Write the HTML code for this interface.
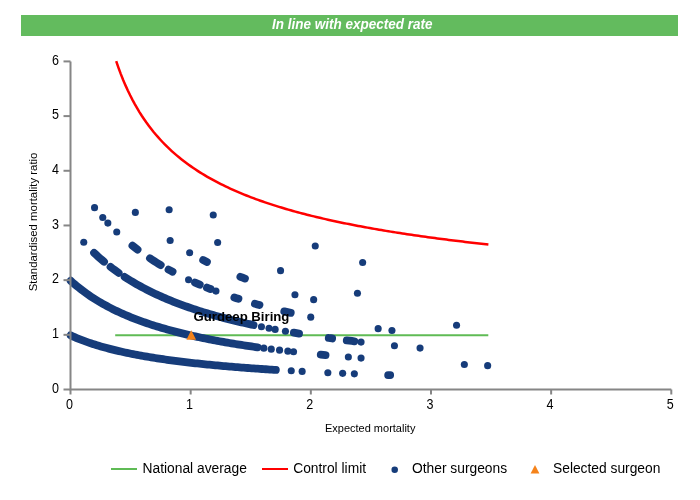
<!DOCTYPE html>
<html><head><meta charset="utf-8"><style>
html,body{margin:0;padding:0;background:#fff;width:700px;height:500px;overflow:hidden}
svg{position:absolute;left:0;top:0;will-change:transform;font-family:"Liberation Sans",sans-serif}
</style></head><body>
<svg width="700" height="500" viewBox="0 0 700 500">
<rect x="21" y="15" width="657" height="21" fill="#63bb5e"/>
<text transform="translate(352.30,28.90) scale(1.0,1.1)" text-anchor="middle" font-size="13.5" font-weight="bold" font-style="italic" fill="#fff">In line with expected rate</text>
<path d="M115.2,335.3 L488.3,335.3" stroke="#5fbb55" stroke-width="2" fill="none"/>
<path d="M116.19,61.12 L118.52,67.84 L120.84,74.09 L123.17,79.92 L125.50,85.38 L127.82,90.50 L130.15,95.31 L132.48,99.86 L134.80,104.15 L137.13,108.22 L139.45,112.08 L141.78,115.75 L144.11,119.24 L146.43,122.58 L148.76,125.76 L151.09,128.80 L153.41,131.72 L155.74,134.51 L158.07,137.19 L160.39,139.77 L162.72,142.25 L165.04,144.64 L167.37,146.94 L169.70,149.16 L172.02,151.30 L174.35,153.37 L176.68,155.38 L179.00,157.31 L181.33,159.19 L183.65,161.01 L185.98,162.77 L188.31,164.48 L190.63,166.14 L192.96,167.75 L195.29,169.32 L197.61,170.84 L199.94,172.33 L202.27,173.77 L204.59,175.18 L206.92,176.55 L209.24,177.88 L211.57,179.18 L213.90,180.45 L216.22,181.69 L218.55,182.90 L220.88,184.08 L223.20,185.24 L225.53,186.37 L227.85,187.47 L230.18,188.55 L232.51,189.61 L234.83,190.64 L237.16,191.65 L239.49,192.64 L241.81,193.61 L244.14,194.57 L246.46,195.50 L248.79,196.41 L251.12,197.31 L253.44,198.19 L255.77,199.05 L258.10,199.90 L260.42,200.73 L262.75,201.54 L265.08,202.34 L267.40,203.13 L269.73,203.90 L272.05,204.66 L274.38,205.41 L276.71,206.14 L279.03,206.86 L281.36,207.57 L283.69,208.27 L286.01,208.96 L288.34,209.63 L290.66,210.30 L292.99,210.95 L295.32,211.60 L297.64,212.23 L299.97,212.85 L302.30,213.47 L304.62,214.08 L306.95,214.67 L309.27,215.26 L311.60,215.84 L313.93,216.41 L316.25,216.97 L318.58,217.53 L320.91,218.08 L323.23,218.62 L325.56,219.15 L327.89,219.68 L330.21,220.19 L332.54,220.70 L334.86,221.21 L337.19,221.71 L339.52,222.20 L341.84,222.68 L344.17,223.16 L346.50,223.64 L348.82,224.10 L351.15,224.56 L353.47,225.02 L355.80,225.47 L358.13,225.91 L360.45,226.35 L362.78,226.79 L365.11,227.21 L367.43,227.64 L369.76,228.06 L372.08,228.47 L374.41,228.88 L376.74,229.28 L379.06,229.68 L381.39,230.08 L383.72,230.47 L386.04,230.86 L388.37,231.24 L390.70,231.62 L393.02,231.99 L395.35,232.36 L397.67,232.73 L400.00,233.09 L402.33,233.45 L404.65,233.80 L406.98,234.15 L409.31,234.50 L411.63,234.84 L413.96,235.18 L416.28,235.52 L418.61,235.85 L420.94,236.18 L423.26,236.51 L425.59,236.83 L427.92,237.15 L430.24,237.47 L432.57,237.78 L434.90,238.10 L437.22,238.40 L439.55,238.71 L441.87,239.01 L444.20,239.31 L446.53,239.61 L448.85,239.90 L451.18,240.19 L453.51,240.48 L455.83,240.77 L458.16,241.05 L460.48,241.33 L462.81,241.61 L465.14,241.89 L467.46,242.16 L469.79,242.43 L472.12,242.70 L474.44,242.97 L476.77,243.23 L479.09,243.49 L481.42,243.75 L483.75,244.01 L486.07,244.27 L488.40,244.52" stroke="#ff0000" stroke-width="2.5" fill="none" stroke-linecap="butt"/>
<path d="M70.65,335.42 L72.66,336.32 L74.67,337.19 L76.69,338.04 L78.70,338.85 L80.71,339.64 L82.72,340.41 L84.73,341.16 L86.74,341.88 L88.76,342.58 L90.77,343.26 L92.78,343.92 L94.79,344.57 L96.80,345.19 L98.81,345.80 L100.83,346.40 L102.84,346.97 L104.85,347.53 L106.86,348.08 L108.87,348.62 L110.89,349.14 L112.90,349.64 L114.91,350.14 L116.92,350.62 L118.93,351.09 L120.94,351.55 L122.96,352.00 L124.97,352.44 L126.98,352.87 L128.99,353.29 L131.00,353.70 L133.01,354.10 L135.03,354.50 L137.04,354.88 L139.05,355.26 L141.06,355.62 L143.07,355.98 L145.09,356.34 L147.10,356.68 L149.11,357.02 L151.12,357.35 L153.13,357.68 L155.14,358.00 L157.16,358.31 L159.17,358.61 L161.18,358.92 L163.19,359.21 L165.20,359.50 L167.21,359.78 L169.23,360.06 L171.24,360.34 L173.25,360.60 L175.26,360.87 L177.27,361.13 L179.29,361.38 L181.30,361.63 L183.31,361.88 L185.32,362.12 L187.33,362.36 L189.34,362.59 L191.36,362.82 L193.37,363.05 L195.38,363.27 L197.39,363.49 L199.40,363.70 L201.41,363.92 L203.43,364.12 L205.44,364.33 L207.45,364.53 L209.46,364.73 L211.47,364.92 L213.49,365.12 L215.50,365.31 L217.51,365.49 L219.52,365.68 L221.53,365.86 L223.54,366.04 L225.56,366.21 L227.57,366.39 L229.58,366.56 L231.59,366.73 L233.60,366.89 L235.61,367.06 L237.63,367.22 L239.64,367.38 L241.65,367.53 L243.66,367.69 L245.67,367.84 L247.69,367.99 L249.70,368.14 L251.71,368.29 L253.72,368.43 L255.73,368.57 L257.74,368.72 L259.76,368.86 L261.77,368.99 L263.78,369.13 L265.79,369.26 L267.80,369.39 L269.81,369.52 L271.83,369.65 L273.84,369.78 L275.85,369.91" stroke="#163c7a" stroke-width="7.8" fill="none" stroke-linecap="round" stroke-linejoin="round"/>
<path d="M388.15,375.09 L389.15,375.12 L390.15,375.16" stroke="#163c7a" stroke-width="7.8" fill="none" stroke-linecap="round" stroke-linejoin="round"/>
<path d="M70.65,280.74 L72.66,282.54 L74.67,284.28 L76.68,285.96 L78.69,287.60 L80.70,289.18 L82.71,290.71 L84.72,292.20 L86.73,293.65 L88.74,295.05 L90.75,296.41 L92.76,297.73 L94.77,299.02 L96.78,300.27 L98.79,301.49 L100.80,302.67 L102.80,303.83 L104.81,304.95 L106.82,306.04 L108.83,307.11 L110.84,308.15 L112.85,309.17 L114.86,310.16 L116.87,311.12 L118.88,312.06 L120.89,312.98 L122.90,313.88 L124.91,314.76 L126.92,315.62 L128.93,316.46 L130.94,317.28 L132.95,318.08 L134.96,318.86 L136.97,319.63 L138.98,320.38 L140.99,321.12 L143.00,321.84 L145.01,322.54 L147.02,323.24 L149.03,323.91 L151.04,324.58 L153.05,325.23 L155.06,325.86 L157.07,326.49 L159.08,327.10 L161.09,327.70 L163.10,328.29 L165.10,328.87 L167.11,329.44 L169.12,330.00 L171.13,330.54 L173.14,331.08 L175.15,331.61 L177.16,332.13 L179.17,332.64 L181.18,333.14 L183.19,333.63 L185.20,334.11 L187.21,334.59 L189.22,335.06 L191.23,335.52 L193.24,335.97 L195.25,336.41 L197.26,336.85 L199.27,337.28 L201.28,337.70 L203.29,338.12 L205.30,338.53 L207.31,338.93 L209.32,339.33 L211.33,339.72 L213.34,340.11 L215.35,340.49 L217.36,340.86 L219.37,341.23 L221.38,341.59 L223.39,341.95 L225.40,342.30 L227.40,342.65 L229.41,342.99 L231.42,343.32 L233.43,343.66 L235.44,343.98 L237.45,344.31 L239.46,344.63 L241.47,344.94 L243.48,345.25 L245.49,345.56 L247.50,345.86 L249.51,346.15 L251.52,346.45 L253.53,346.74 L255.54,347.02 L257.55,347.30" stroke="#163c7a" stroke-width="7.8" fill="none" stroke-linecap="round" stroke-linejoin="round"/>
<path d="M320.75,354.61 L323.15,354.84 L325.55,355.06" stroke="#163c7a" stroke-width="7.8" fill="none" stroke-linecap="round" stroke-linejoin="round"/>
<path d="M94.05,252.80 L96.05,254.68 L98.05,256.52 L100.05,258.31 L102.05,260.05 L104.05,261.74" stroke="#163c7a" stroke-width="7.8" fill="none" stroke-linecap="round" stroke-linejoin="round"/>
<path d="M110.55,266.95 L112.58,268.49 L114.60,269.99 L116.62,271.46 L118.65,272.88" stroke="#163c7a" stroke-width="7.8" fill="none" stroke-linecap="round" stroke-linejoin="round"/>
<path d="M124.65,276.92 L126.66,278.22 L128.68,279.48 L130.69,280.72 L132.71,281.93 L134.72,283.11 L136.73,284.27 L138.75,285.40 L140.76,286.51 L142.78,287.59 L144.79,288.65 L146.80,289.69 L148.82,290.71 L150.83,291.71 L152.85,292.69 L154.86,293.65 L156.88,294.59 L158.89,295.52 L160.90,296.42 L162.92,297.31 L164.93,298.18 L166.95,299.04 L168.96,299.88 L170.97,300.70 L172.99,301.51 L175.00,302.30 L177.02,303.09 L179.03,303.85 L181.04,304.61 L183.06,305.35 L185.07,306.07 L187.09,306.79 L189.10,307.49 L191.11,308.18 L193.13,308.86 L195.14,309.53 L197.16,310.19 L199.17,310.84 L201.18,311.47 L203.20,312.10 L205.21,312.72 L207.23,313.32 L209.24,313.92 L211.25,314.51 L213.27,315.09 L215.28,315.66 L217.30,316.22 L219.31,316.78 L221.33,317.32 L223.34,317.86 L225.35,318.39 L227.37,318.91 L229.38,319.42 L231.40,319.93 L233.41,320.43 L235.42,320.92 L237.44,321.41 L239.45,321.89 L241.47,322.36 L243.48,322.82 L245.49,323.28 L247.51,323.74 L249.52,324.18 L251.54,324.62 L253.55,325.06" stroke="#163c7a" stroke-width="7.8" fill="none" stroke-linecap="round" stroke-linejoin="round"/>
<path d="M293.85,332.69 L296.45,333.13 L299.05,333.55" stroke="#163c7a" stroke-width="7.8" fill="none" stroke-linecap="round" stroke-linejoin="round"/>
<path d="M328.75,337.99 L330.45,338.22 L332.15,338.45" stroke="#163c7a" stroke-width="7.8" fill="none" stroke-linecap="round" stroke-linejoin="round"/>
<path d="M346.75,340.36 L349.28,340.67 L351.82,340.99 L354.35,341.29" stroke="#163c7a" stroke-width="7.8" fill="none" stroke-linecap="round" stroke-linejoin="round"/>
<path d="M132.45,245.66 L135.00,247.66 L137.55,249.60" stroke="#163c7a" stroke-width="7.8" fill="none" stroke-linecap="round" stroke-linejoin="round"/>
<path d="M149.95,258.34 L152.11,259.75 L154.27,261.13 L156.43,262.48 L158.59,263.81 L160.75,265.11" stroke="#163c7a" stroke-width="7.8" fill="none" stroke-linecap="round" stroke-linejoin="round"/>
<path d="M168.55,269.58 L170.55,270.67 L172.55,271.75" stroke="#163c7a" stroke-width="7.8" fill="none" stroke-linecap="round" stroke-linejoin="round"/>
<path d="M195.05,282.64 L197.40,283.66 L199.75,284.66" stroke="#163c7a" stroke-width="7.8" fill="none" stroke-linecap="round" stroke-linejoin="round"/>
<path d="M206.95,287.62 L208.70,288.32 L210.45,289.00" stroke="#163c7a" stroke-width="7.8" fill="none" stroke-linecap="round" stroke-linejoin="round"/>
<path d="M234.35,297.51 L236.40,298.18 L238.45,298.83" stroke="#163c7a" stroke-width="7.8" fill="none" stroke-linecap="round" stroke-linejoin="round"/>
<path d="M254.95,303.78 L257.20,304.41 L259.45,305.04" stroke="#163c7a" stroke-width="7.8" fill="none" stroke-linecap="round" stroke-linejoin="round"/>
<path d="M284.25,311.36 L286.42,311.86 L288.58,312.37 L290.75,312.86" stroke="#163c7a" stroke-width="7.8" fill="none" stroke-linecap="round" stroke-linejoin="round"/>
<path d="M203.15,260.08 L205.05,261.05 L206.95,262.00" stroke="#163c7a" stroke-width="7.8" fill="none" stroke-linecap="round" stroke-linejoin="round"/>
<path d="M240.35,276.76 L242.65,277.66 L244.95,278.53" stroke="#163c7a" stroke-width="7.8" fill="none" stroke-linecap="round" stroke-linejoin="round"/>
<circle cx="291.25" cy="370.82" r="3.55" fill="#163c7a"/>
<circle cx="302.15" cy="371.42" r="3.55" fill="#163c7a"/>
<circle cx="327.85" cy="372.69" r="3.55" fill="#163c7a"/>
<circle cx="342.65" cy="373.35" r="3.55" fill="#163c7a"/>
<circle cx="354.35" cy="373.83" r="3.55" fill="#163c7a"/>
<circle cx="263.85" cy="348.17" r="3.55" fill="#163c7a"/>
<circle cx="271.25" cy="349.13" r="3.55" fill="#163c7a"/>
<circle cx="279.55" cy="350.17" r="3.55" fill="#163c7a"/>
<circle cx="287.85" cy="351.15" r="3.55" fill="#163c7a"/>
<circle cx="293.55" cy="351.80" r="3.55" fill="#163c7a"/>
<circle cx="348.35" cy="357.07" r="3.55" fill="#163c7a"/>
<circle cx="361.05" cy="358.09" r="3.55" fill="#163c7a"/>
<circle cx="464.35" cy="364.53" r="3.55" fill="#163c7a"/>
<circle cx="487.65" cy="365.64" r="3.55" fill="#163c7a"/>
<circle cx="83.75" cy="242.19" r="3.55" fill="#163c7a"/>
<circle cx="261.45" cy="326.71" r="3.55" fill="#163c7a"/>
<circle cx="269.05" cy="328.22" r="3.55" fill="#163c7a"/>
<circle cx="275.15" cy="329.39" r="3.55" fill="#163c7a"/>
<circle cx="285.45" cy="331.25" r="3.55" fill="#163c7a"/>
<circle cx="361.05" cy="342.09" r="3.55" fill="#163c7a"/>
<circle cx="394.45" cy="345.70" r="3.55" fill="#163c7a"/>
<circle cx="420.05" cy="348.12" r="3.55" fill="#163c7a"/>
<circle cx="94.55" cy="207.67" r="3.55" fill="#163c7a"/>
<circle cx="102.75" cy="217.49" r="3.55" fill="#163c7a"/>
<circle cx="107.85" cy="223.09" r="3.55" fill="#163c7a"/>
<circle cx="116.75" cy="232.03" r="3.55" fill="#163c7a"/>
<circle cx="188.55" cy="279.70" r="3.55" fill="#163c7a"/>
<circle cx="215.95" cy="291.10" r="3.55" fill="#163c7a"/>
<circle cx="310.75" cy="317.15" r="3.55" fill="#163c7a"/>
<circle cx="378.15" cy="328.65" r="3.55" fill="#163c7a"/>
<circle cx="391.95" cy="330.57" r="3.55" fill="#163c7a"/>
<circle cx="135.35" cy="212.39" r="3.55" fill="#163c7a"/>
<circle cx="170.15" cy="240.54" r="3.55" fill="#163c7a"/>
<circle cx="189.65" cy="252.74" r="3.55" fill="#163c7a"/>
<circle cx="294.95" cy="294.73" r="3.55" fill="#163c7a"/>
<circle cx="313.65" cy="299.64" r="3.55" fill="#163c7a"/>
<circle cx="456.55" cy="325.18" r="3.55" fill="#163c7a"/>
<circle cx="169.15" cy="209.81" r="3.55" fill="#163c7a"/>
<circle cx="217.65" cy="242.54" r="3.55" fill="#163c7a"/>
<circle cx="280.55" cy="270.66" r="3.55" fill="#163c7a"/>
<circle cx="357.45" cy="293.23" r="3.55" fill="#163c7a"/>
<circle cx="213.25" cy="215.06" r="3.55" fill="#163c7a"/>
<circle cx="315.25" cy="246.00" r="3.55" fill="#163c7a"/>
<circle cx="362.65" cy="262.57" r="3.55" fill="#163c7a"/>
<path d="M70.5,61.4 V389.5 H671.3" stroke="#868686" stroke-width="2" fill="none"/>
<path d="M63.5,389.50 H70.5" stroke="#868686" stroke-width="2"/>
<path d="M63.5,334.82 H70.5" stroke="#868686" stroke-width="2"/>
<path d="M63.5,280.14 H70.5" stroke="#868686" stroke-width="2"/>
<path d="M63.5,225.46 H70.5" stroke="#868686" stroke-width="2"/>
<path d="M63.5,170.78 H70.5" stroke="#868686" stroke-width="2"/>
<path d="M63.5,116.10 H70.5" stroke="#868686" stroke-width="2"/>
<path d="M63.5,61.42 H70.5" stroke="#868686" stroke-width="2"/>
<path d="M70.50,389.5 V394.5" stroke="#868686" stroke-width="2"/>
<path d="M190.66,389.5 V394.5" stroke="#868686" stroke-width="2"/>
<path d="M310.82,389.5 V394.5" stroke="#868686" stroke-width="2"/>
<path d="M430.98,389.5 V394.5" stroke="#868686" stroke-width="2"/>
<path d="M551.14,389.5 V394.5" stroke="#868686" stroke-width="2"/>
<path d="M671.30,389.5 V394.5" stroke="#868686" stroke-width="2"/>
<path d="M191.25,330.2 L196.1,339.8 L186.4,339.8 Z" fill="#f5831b"/>
<text transform="translate(58.90,392.80) scale(0.93,1.05)" text-anchor="end" font-size="13.5" >0</text>
<text transform="translate(58.90,338.12) scale(0.93,1.05)" text-anchor="end" font-size="13.5" >1</text>
<text transform="translate(58.90,283.44) scale(0.93,1.05)" text-anchor="end" font-size="13.5" >2</text>
<text transform="translate(58.90,228.76) scale(0.93,1.05)" text-anchor="end" font-size="13.5" >3</text>
<text transform="translate(58.90,174.08) scale(0.93,1.05)" text-anchor="end" font-size="13.5" >4</text>
<text transform="translate(58.90,119.40) scale(0.93,1.05)" text-anchor="end" font-size="13.5" >5</text>
<text transform="translate(58.90,64.72) scale(0.93,1.05)" text-anchor="end" font-size="13.5" >6</text>
<text transform="translate(69.40,408.90) scale(0.93,1.05)" text-anchor="middle" font-size="13.5" >0</text>
<text transform="translate(189.56,408.90) scale(0.93,1.05)" text-anchor="middle" font-size="13.5" >1</text>
<text transform="translate(309.72,408.90) scale(0.93,1.05)" text-anchor="middle" font-size="13.5" >2</text>
<text transform="translate(429.88,408.90) scale(0.93,1.05)" text-anchor="middle" font-size="13.5" >3</text>
<text transform="translate(550.04,408.90) scale(0.93,1.05)" text-anchor="middle" font-size="13.5" >4</text>
<text transform="translate(670.20,408.90) scale(0.93,1.05)" text-anchor="middle" font-size="13.5" >5</text>
<text transform="translate(370.20,431.80) scale(1.0,1.06)" text-anchor="middle" font-size="11" >Expected mortality</text>
<text transform="translate(36.5,221.9) rotate(-90)" text-anchor="middle" font-size="11.4" fill="#000">Standardised mortality ratio</text>
<text transform="translate(193.50,320.60) scale(1.0,1.03)" text-anchor="start" font-size="13.2" font-weight="bold">Gurdeep Biring</text>
<path d="M111,469 H137" stroke="#5fbb55" stroke-width="2"/>
<text transform="translate(142.50,473.30) scale(1.0,1.0)" text-anchor="start" font-size="13.8" >National average</text>
<path d="M262,469 H288" stroke="#ff0000" stroke-width="2"/>
<text transform="translate(293.20,473.30) scale(1.0,1.0)" text-anchor="start" font-size="13.8" >Control limit</text>
<circle cx="394.7" cy="469.7" r="3.25" fill="#163c7a"/>
<text transform="translate(412.00,473.30) scale(1.0,1.0)" text-anchor="start" font-size="13.8" >Other surgeons</text>
<path d="M535,464.9 L539.4,473.5 L530.6,473.5 Z" fill="#f5831b"/>
<text transform="translate(553.00,473.30) scale(1.0,1.0)" text-anchor="start" font-size="13.8" >Selected surgeon</text>
</svg>
</body></html>
